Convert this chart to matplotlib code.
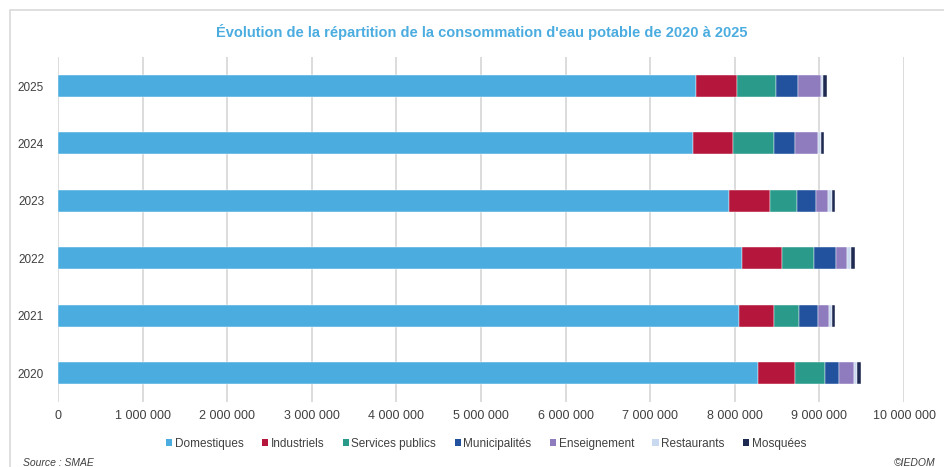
import matplotlib
matplotlib.use("Agg")
import matplotlib.pyplot as plt
from matplotlib.patches import Rectangle, Patch
from matplotlib.ticker import FuncFormatter
import numpy as np

plt.rcParams['font.family'] = ['Liberation Sans', 'DejaVu Sans']

years = ["2020", "2021", "2022", "2023", "2024", "2025"]
categories = ["Domestiques", "Industriels", "Services publics", "Municipalités",
              "Enseignement", "Restaurants", "Mosquées"]

domestiques = [8280000, 8050000, 8080000, 7930000, 7510000, 7540000]
industriels = [428000, 411000, 483000, 483000, 474000, 483000]
services_publics = [353000, 303000, 369000, 317000, 474000, 463000]
municipalites = [176000, 215000, 259000, 224000, 255000, 262000]
enseignement = [173000, 133000, 133000, 145000, 267000, 271000]
restaurants = [39000, 40000, 51000, 47000, 35000, 27000]
mosquees = [43000, 35000, 40000, 39000, 43000, 40000]

series = [domestiques, industriels, services_publics, municipalites,
          enseignement, restaurants, mosquees]
colors = ["#4BACE0", "#B5173C", "#2A9B8A", "#22529E", "#8E7CBF", "#C9D9EF", "#1F2A52"]

W, H = 944, 467
fig = plt.figure(figsize=(W / 100, H / 100), dpi=100)

# outer chart frame
fig.add_artist(Rectangle((10 / W, -0.01), 1.0, (H - 10) / H + 0.01,
                         transform=fig.transFigure, fill=False,
                         edgecolor="#D9D9D9", linewidth=1.2))

ax = fig.add_axes([58 / W, (H - 401.7) / H, (904 - 58) / W, (401.7 - 57.3) / H])

y = np.arange(len(years))
left = np.zeros(len(years))
for vals, col, name in zip(series, colors, categories):
    ax.barh(y, vals, left=left, height=0.385, color=col, label=name,
            edgecolor="white", linewidth=0.3, zorder=3)
    left += np.array(vals)

ax.set_xlim(0, 10_000_000)
ax.set_ylim(-0.5, len(years) - 0.5)
ax.set_yticks(y)
ax.set_yticklabels(years)
ax.set_xticks(np.arange(0, 10_000_001, 1_000_000))
ax.xaxis.set_major_formatter(FuncFormatter(lambda v, p: f"{int(v):,}".replace(",", " ")))
ax.grid(axis="x", color="#D9D9D9", linewidth=1.3, zorder=0)
for s in ax.spines.values():
    s.set_visible(False)
ax.tick_params(axis="both", length=0, labelsize=9, labelcolor="#404040")
ax.tick_params(axis="y", labelsize=8.5)
ax.tick_params(axis="x", pad=6)
ax.tick_params(axis="y", pad=10)

fig.text(482 / W, 1 - 32 / H,
         "Évolution de la répartition de la consommation d'eau potable de 2020 à 2025",
         ha="center", va="center", fontsize=10.5, fontweight="bold", color="#4BACE0")

handles = [Patch(facecolor=c, label=n) for c, n in zip(colors, categories)]
fig.legend(handles=handles, loc="center", bbox_to_anchor=(486 / W, 1 - 444 / H),
           ncol=7, frameon=False, fontsize=8.5, handlelength=0.55, handleheight=0.55,
           handletextpad=0.2, columnspacing=1.55, labelcolor="#404040")

fig.text(23 / W, 1 - 463 / H, "Source : SMAE", ha="left", va="center",
         fontsize=7.5, style="italic", color="#404040")
fig.text(935 / W, 1 - 463 / H, "©IEDOM", ha="right", va="center",
         fontsize=7.5, style="italic", color="#404040")

fig.savefig("out.png", dpi=100)
